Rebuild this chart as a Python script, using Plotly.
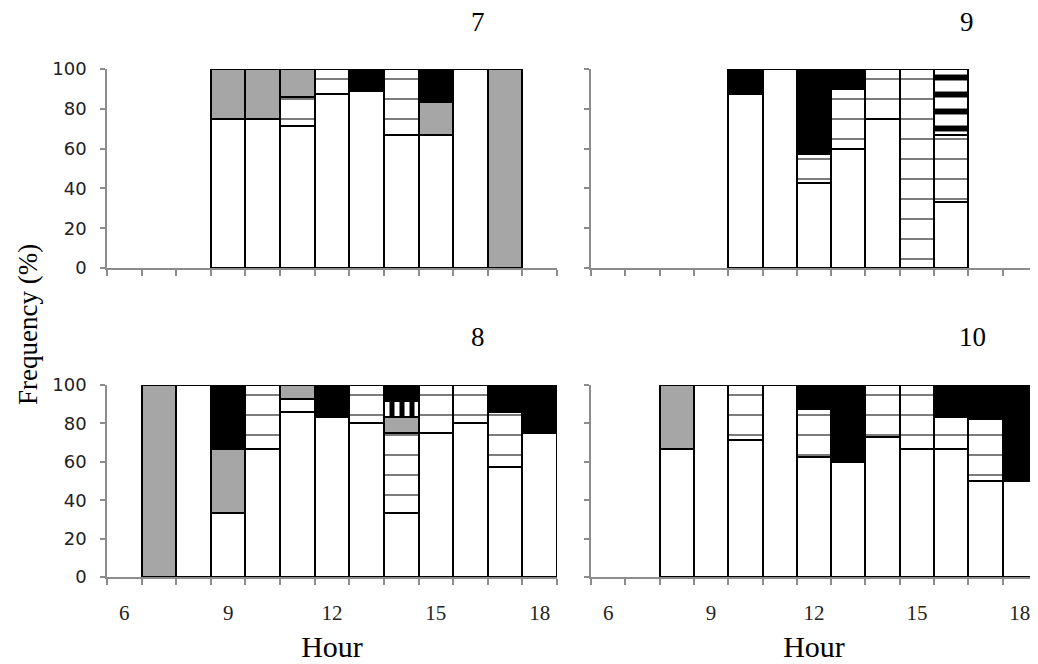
import plotly.graph_objects as go

hours = list(range(6, 19))

# Panel "7" (top-left) – segment heights (%) per hour, stacked bottom->top
p7_white = [None, None, None, 75, 75, 71.4, 87.5, 88.9, 66.7, 66.7, 100, None, None]
p7_hatch = [None, None, None, None, None, 14.3, 12.5, None, 33.3, None, None, None, None]
p7_gray = [None, None, None, 25, 25, 14.3, None, None, None, 16.6, None, 100, None]
p7_vstripe = [None] * 13
p7_hstripe = [None] * 13
p7_black = [None, None, None, None, None, None, None, 11.1, None, 16.7, None, None, None]

# Panel "9" (top-right)
p9_white = [None, None, None, None, 87.5, 100, 42.9, 60, 75, None, 33.3, None, None]
p9_hatch = [None, None, None, None, None, None, 14.2, 30, 25, 100, 33.4, None, None]
p9_gray = [None] * 13
p9_vstripe = [None] * 13
p9_hstripe = [None, None, None, None, None, None, None, None, None, None, 33.3, None, None]
p9_black = [None, None, None, None, 12.5, None, 42.9, 10, None, None, None, None, None]

# Panel "8" (bottom-left)
p8_white = [None, None, 100, 33.3, 66.7, 85.7, 83.3, 80, 33.3, 75, 80, 57.1, 75]
p8_hatch = [None, None, None, None, 33.3, 7.2, None, 20, 41.7, 25, 20, 28.6, None]
p8_gray = [None, 100, None, 33.4, None, 7.1, None, None, 8.3, None, None, None, None]
p8_vstripe = [None, None, None, None, None, None, None, None, 8.4, None, None, None, None]
p8_hstripe = [None] * 13
p8_black = [None, None, None, 33.3, None, None, 16.7, None, 8.3, None, None, 14.3, 25]

# Panel "10" (bottom-right)
p10_white = [None, None, 66.7, 100, 71.4, 100, 62.5, 60, 73, 66.7, 66.7, 50, 50]
p10_hatch = [None, None, None, None, 28.6, None, 25, None, 27, 33.3, 16.6, 32.5, None]
p10_gray = [None, None, 33.3, None, None, None, None, None, None, None, None, None, None]
p10_vstripe = [None] * 13
p10_hstripe = [None] * 13
p10_black = [None, None, None, None, None, None, 12.5, 40, None, None, 16.7, 17.5, 50]

panel_titles = ["7", "9", "8", "10"]
x_tick_labels = ["6", "9", "12", "15", "18"]
x_tick_hours = [6, 9, 12, 15, 18]
y_ticks = [0, 20, 40, 60, 80, 100]

panels = [
    [p7_white, p7_hatch, p7_gray, p7_vstripe, p7_hstripe, p7_black],
    [p9_white, p9_hatch, p9_gray, p9_vstripe, p9_hstripe, p9_black],
    [p8_white, p8_hatch, p8_gray, p8_vstripe, p8_hstripe, p8_black],
    [p10_white, p10_hatch, p10_gray, p10_vstripe, p10_hstripe, p10_black],
]

line = dict(color="black", width=2)
styles = [
    dict(color="white", line=line),
    dict(color="white", line=line,
         pattern=dict(shape="-", fgcolor="#7c7c7c", bgcolor="white", size=20,
                      solidity=0.1, fgopacity=1)),
    dict(color="#a6a6a6", line=line),
    dict(color="white", line=line,
         pattern=dict(shape="|", fgcolor="#000000", bgcolor="white", size=10,
                      solidity=0.5, fgopacity=1)),
    dict(color="white", line=line,
         pattern=dict(shape="-", fgcolor="#000000", bgcolor="white", size=17,
                      solidity=0.35, fgopacity=1)),
    dict(color="black", line=line),
]

W, H = 1038, 664
OFF = 8  # page body margin


def px(x):
    return (x - OFF) / W


def py(y):
    return 1 - (y - OFF) / H


xdoms = [[px(107), px(557)], [px(591), px(1037)]]
ydoms = [[py(268), py(69)], [py(577), py(385)]]

fig = go.Figure()
axis_gray = "#8c8c8c"
for i, series in enumerate(panels):
    n = i + 1
    xa = "x" if n == 1 else f"x{n}"
    ya = "y" if n == 1 else f"y{n}"
    for s, vals in enumerate(series):
        fig.add_trace(go.Bar(x=hours, y=vals, marker=styles[s], xaxis=xa, yaxis=ya,
                             showlegend=False, width=1))
    row, col = divmod(i, 2)
    bottom = row == 1
    fig.layout[f"xaxis{'' if n == 1 else n}"] = dict(
        domain=xdoms[col], anchor=ya, range=[5.5, 18.5], showgrid=False, zeroline=False,
        showline=True, linecolor=axis_gray, linewidth=1.5, automargin=False,
        tickmode="array", tickvals=x_tick_hours, ticktext=x_tick_labels,
        showticklabels=bottom, ticks="",
        tickfont=dict(family="Liberation Serif", size=21, color="#222"),
        ticklabelstandoff=16,
        minor=dict(tickmode="linear", tick0=5.5, dtick=1, ticks="outside", ticklen=6,
                   tickcolor=axis_gray, tickwidth=1.5),
        layer="below traces",
        title=dict(text="Hour" if bottom else "",
                   font=dict(family="Liberation Serif", size=30, color="black"), standoff=12),
    )
    fig.layout[f"yaxis{'' if n == 1 else n}"] = dict(
        domain=ydoms[row], anchor=xa, range=[0, 100], showgrid=False, zeroline=False,
        showline=True, linecolor=axis_gray, linewidth=1.5, automargin=False,
        tickmode="array", tickvals=y_ticks, ticks="outside", ticklen=5,
        tickcolor=axis_gray, tickwidth=1.5,
        showticklabels=(col == 0),
        tickfont=dict(family="DejaVu Sans", size=18, color="#222"),
        ticklabelstandoff=10, layer="below traces",
    )

title_pos = [(478, 22), (967, 22), (478, 337), (972, 337)]
for t, (tx, ty) in zip(panel_titles, title_pos):
    fig.add_annotation(text=t, x=px(tx), y=py(ty), xref="paper", yref="paper",
                       showarrow=False, xanchor="center", yanchor="middle",
                       font=dict(family="Liberation Serif", size=27, color="black"))

fig.add_annotation(text="Frequency (%)", x=px(28), y=py(325), xref="paper", yref="paper",
                   showarrow=False, textangle=-90, xanchor="center", yanchor="middle",
                   font=dict(family="Liberation Serif", size=27, color="black"))

fig.update_layout(
    width=W, height=H, barmode="stack", bargap=0,
    margin=dict(l=0, r=0, t=0, b=0),
    paper_bgcolor="white", plot_bgcolor="white",
)

fig.write_html("out.html")
